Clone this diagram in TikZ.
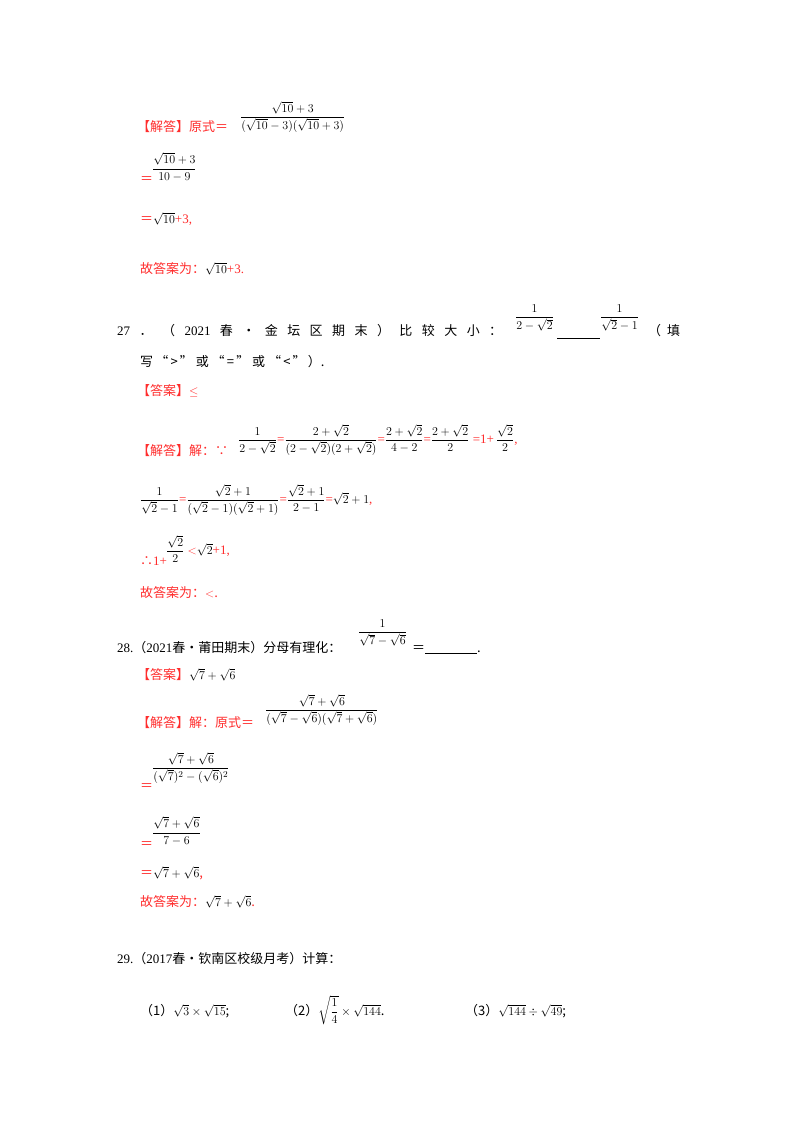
\documentclass[tikz,border=0pt]{standalone}
\usepackage{amsmath}
\usepackage{fontspec}
\setmainfont{Liberation Serif}
\newfontfamily\cjk{Noto Sans CJK SC}
\definecolor{ans}{RGB}{255,45,45}
\newcommand{\rd}[1]{\textcolor{ans}{#1}}
\newcommand{\hf}{\hfill{}}
\begin{document}
\begin{tikzpicture}[x=1pt,y=-1pt,
  tx/.style={anchor=base west,inner sep=0pt,font=\fontsize{13}{15}\selectfont\cjk},
  fr/.style={anchor=west,inner sep=0pt,font=\fontsize{13}{15}\selectfont}]
\useasboundingbox[fill=white] (0,0) rectangle (800,1132);
% Q26 tail
\node[tx] (a1) at (137,131) {\rd{【解答】原式＝}};
\node[fr] (a1f) at (240,117) {$\dfrac{\sqrt{10}+3}{(\sqrt{10}-3)(\sqrt{10}+3)}$};
\node[tx] (a2) at (140,183) {\rd{＝}};
\node[fr] (a2f) at (152,167) {$\dfrac{\sqrt{10}+3}{10-9}$};
\node[tx] (a3) at (140,223) {\rd{＝}$\sqrt{10}$\rd{\rmfamily+3,}};
\node[tx] (a4) at (140,273) {\rd{故答案为：}$\sqrt{10}$\rd{\rmfamily+3.}};
% Q27
\node[tx] (q27) at (117,335) {\makebox[385pt][s]{{\rmfamily 27}\hf ．\hf （\hf {\rmfamily 2021}\hf 春\hf •\hf 金\hf 坛\hf 区\hf 期\hf 末\hf ）\hf 比\hf 较\hf 大\hf 小\hf ：}};
\node[fr] (q27f1) at (515,318) {$\dfrac{1}{2-\sqrt2}$};
\coordinate (u1) at (557,338); \coordinate (u2) at (600,338);
\draw (u1) -- (u2);
\node[fr] (q27f2) at (600,318) {$\dfrac{1}{\sqrt2-1}$};
\node[tx] (q27b) at (648,335) {（\ \ 填};
\node[tx] (q27c) at (140,366) {写\,“\,>\,”\ 或\ “\,=\,”\ 或\ “\,<\,”\,）.};
\node[tx] (ans27) at (137,395) {\rd{【答案】$\le$}};
\node[tx] (s1) at (137,455) {\rd{【解答】解：∵}};
\node[fr] (s1a) at (238,440) {$\dfrac{1}{2-\sqrt2}$\rd{=}$\dfrac{2+\sqrt2}{(2-\sqrt2)(2+\sqrt2)}$\rd{=}$\dfrac{2+\sqrt2}{4-2}$\rd{=}$\dfrac{2+\sqrt2}{2}$\ \rd{=\rmfamily 1+}$\,\dfrac{\sqrt2}{2}$\rd{,}};
\node[fr] (s2) at (140,500) {$\dfrac{1}{\sqrt2-1}$\rd{=}$\dfrac{\sqrt2+1}{(\sqrt2-1)(\sqrt2+1)}$\rd{=}$\dfrac{\sqrt2+1}{2-1}$\rd{=}$\sqrt2+1$\rd{,}};
\node[tx] (s3) at (140,565) {\rd{∴{\rmfamily 1+}}};
\node[fr] (s3f) at (166,549) {$\dfrac{\sqrt2}{2}$\ \rd{$<$}$\sqrt2$\rd{\rmfamily+1,}};
\node[tx] (s4) at (140,597) {\rd{故答案为：$<$.}};
% Q28
\node[tx] (q28) at (117,652) {{\rmfamily 28.}（{\rmfamily 2021}春•莆田期末）分母有理化：};
\node[fr] (q28f) at (358,633) {$\dfrac{1}{\sqrt7-\sqrt6}$};
\node[tx] (q28b) at (412,652) {＝\underline{\hspace{52pt}}.};
\node[tx] (ans28) at (137,679) {\rd{【答案】}$\sqrt7+\sqrt6$};
\node[tx] (b1) at (137,727) {\rd{【解答】解：原式＝}};
\node[fr] (b1f) at (265,710) {$\dfrac{\sqrt7+\sqrt6}{(\sqrt7-\sqrt6)(\sqrt7+\sqrt6)}$};
\node[tx] (b2) at (140,790) {\rd{＝}};
\node[fr] (b2f) at (152,768) {$\dfrac{\sqrt7+\sqrt6}{(\sqrt7)^2-(\sqrt6)^2}$};
\node[tx] (b3) at (140,848) {\rd{＝}};
\node[fr] (b3f) at (152,831) {$\dfrac{\sqrt7+\sqrt6}{7-6}$};
\node[tx] (b4) at (140,877) {\rd{＝}$\sqrt7+\sqrt6$\rd{,}};
\node[tx] (b5) at (140,906) {\rd{故答案为：}$\sqrt7+\sqrt6$\rd{.}};
% Q29
\node[tx] (q29) at (117,963) {{\rmfamily 29.}（{\rmfamily 2017}春•钦南区校级月考）计算：};
\node[tx] (p1) at (140,1015) {（1）$\sqrt3\times\sqrt{15}$;};
\node[tx] (p2) at (285,1015) {（2）$\sqrt{\dfrac14}\times\sqrt{144}$.};
\node[tx] (p3) at (465,1015) {（3）$\sqrt{144}\div\sqrt{49}$;};
\end{tikzpicture}
\end{document}
